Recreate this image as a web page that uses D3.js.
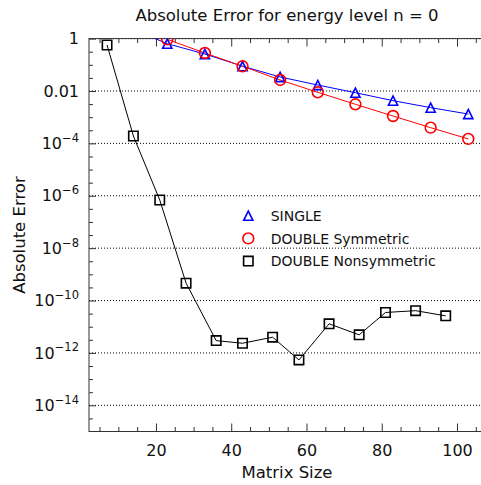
<!DOCTYPE html>
<html>
<head>
<meta charset="utf-8">
<script src="https://cdn.jsdelivr.net/npm/d3@7"></script>
<style>
  html, body { margin: 0; padding: 0; background: #fff; }
  svg { display: block; font-family: "DejaVu Sans", sans-serif; }
</style>
</head>
<body>
<svg id="chart" width="481" height="485"></svg>
<script>
// ---- data ----
const title = "Absolute Error for energy level n = 0";
const xLabel = "Matrix Size";
const yLabel = "Absolute Error";

const singleX = [13, 23, 33, 43, 53, 63, 73, 83, 93, 103];
const singleY = [2.6, 0.638, 0.258, 0.0885, 0.0342, 0.0169, 0.00861, 0.00427, 0.00231, 0.00132];

const dblSymX = [23, 33, 43, 53, 63, 73, 83, 93, 103];
const dblSymY = [0.933, 0.282, 0.0877, 0.0263, 0.00891, 0.0031, 0.00111, 0.000398, 0.000148];

const dblNonX = [7, 14, 21, 28, 36, 43, 51, 58, 66, 74, 81, 89, 97];
const dblNonY = [0.57, 1.91e-4, 6.9e-7, 4.6e-10, 2.95e-12, 2.34e-12, 3.98e-12, 5.4e-13, 1.29e-11, 4.9e-12, 3.5e-11, 4.1e-11, 2.6e-11];

const seriesNames = ["SINGLE", "DOUBLE Symmetric", "DOUBLE Nonsymmetric"];
const seriesColors = ["#0000ff", "#ff0000", "#000000"];
const seriesMarkers = ["triangle", "circle", "square"];

const xMajorTicks = [20, 40, 60, 80, 100];
const xMinorTicks = [5, 10, 15, 25, 30, 35, 45, 50, 55, 65, 70, 75, 85, 90, 95, 105];
const yMajorTicks = [1, 1e-2, 1e-4, 1e-6, 1e-8, 1e-10, 1e-12, 1e-14];
const yMajorLabels = [["1", null], ["0.01", null], ["10", "−4"], ["10", "−6"], ["10", "−8"], ["10", "−10"], ["10", "−12"], ["10", "−14"]];
const yMinorExps = [-0.5, -1, -1.5, -2.5, -3, -3.5, -4.5, -5, -5.5, -6.5, -7, -7.5, -8.5, -9, -9.5, -10.5, -11, -11.5, -12.5, -13, -13.5, -14.5];

// ---- layout ----
const pL = 89, pT = 38.6, pB = 431.5, pR = 487.1;
const svg = d3.select("#chart");

const x = d3.scaleLinear().domain([2.2, 108]).range([pL, pR]);
const y = d3.scaleLog().domain([1e-15, 1]).range([pB, pT]);

// clip
svg.append("defs").append("clipPath").attr("id", "plotclip")
  .append("rect").attr("x", pL).attr("y", pT).attr("width", pR - pL).attr("height", pB - pT);

// gridlines
svg.append("g").selectAll("line").data(yMajorTicks).join("line")
  .attr("x1", pL).attr("x2", pR)
  .attr("y1", d => y(d)).attr("y2", d => y(d))
  .attr("stroke", "#000").attr("stroke-width", 1)
  .attr("stroke-dasharray", "1,2");

// axes
const axisColor = "#333";
function styleAxis(g) {
  g.select(".domain").remove();
  g.selectAll(".tick line").attr("stroke", axisColor).attr("stroke-width", 1);
  g.selectAll("text").attr("fill", "#111").attr("font-size", 16).attr("font-family", "DejaVu Sans");
}

// bottom major/minor
svg.append("g").attr("transform", `translate(0,${pB})`)
  .call(d3.axisBottom(x).tickValues(xMajorTicks).tickSize(-8).tickPadding(13.5).tickFormat(d3.format("d")))
  .call(styleAxis);
svg.append("g").attr("transform", `translate(0,${pB})`)
  .call(d3.axisBottom(x).tickValues(xMinorTicks).tickSize(-4.5).tickFormat(""))
  .call(styleAxis);
// top major/minor
svg.append("g").attr("transform", `translate(0,${pT})`)
  .call(d3.axisTop(x).tickValues(xMajorTicks).tickSize(-8).tickFormat(""))
  .call(styleAxis);
svg.append("g").attr("transform", `translate(0,${pT})`)
  .call(d3.axisTop(x).tickValues(xMinorTicks).tickSize(-4.5).tickFormat(""))
  .call(styleAxis);

// left major
const yAxisG = svg.append("g").attr("transform", `translate(${pL},0)`)
  .call(d3.axisLeft(y).tickValues(yMajorTicks).tickSize(-7).tickPadding(10).tickFormat(""))
  .call(styleAxis);
yAxisG.selectAll(".tick text").each(function(d, i) {
  const t = d3.select(this);
  const lab = yMajorLabels[i];
  t.text(null);
  t.append("tspan").text(lab[0]);
  if (lab[1]) {
    t.append("tspan").attr("font-size", 11.5).attr("dy", "-0.62em").text(lab[1]);
  }
});
// left minor
svg.append("g").attr("transform", `translate(${pL},0)`)
  .call(d3.axisLeft(y).tickValues(yMinorExps.map(e => Math.pow(10, e))).tickSize(-4).tickFormat(""))
  .call(styleAxis);

// frame
svg.append("rect").attr("x", pL).attr("y", pT).attr("width", pR - pL).attr("height", pB - pT)
  .attr("fill", "none").attr("stroke", axisColor).attr("stroke-width", 1);

// markers
function markerPath(type) {
  if (type === "triangle") { const s = 4.6; return `M0,${-s}L${s},${s}L${-s},${s}Z`; }
  if (type === "square") { const s = 4.7; return `M${-s},${-s}H${s}V${s}H${-s}Z`; }
  const r = 5.4; return `M${r},0A${r},${r} 0 1,1 ${-r},0A${r},${r} 0 1,1 ${r},0Z`;
}

const seriesData = [
  singleX.map((v, i) => [v, singleY[i]]),
  dblSymX.map((v, i) => [v, dblSymY[i]]),
  dblNonX.map((v, i) => [v, dblNonY[i]])
];

const plot = svg.append("g").attr("clip-path", "url(#plotclip)");
const line = d3.line().x(d => x(d[0])).y(d => y(d[1]));

seriesData.forEach((data, si) => {
  plot.append("path").datum(data).attr("d", line)
    .attr("fill", "none").attr("stroke", seriesColors[si]).attr("stroke-width", 1);
});
seriesData.forEach((data, si) => {
  plot.append("g").selectAll("path").data(data).join("path")
    .attr("transform", d => `translate(${x(d[0])},${y(d[1])})`)
    .attr("d", markerPath(seriesMarkers[si]))
    .attr("fill", "none").attr("stroke", seriesColors[si]).attr("stroke-width", 1.6);
});

// legend
const legX = 248.3, legY0 = 215.7, legDY = 22.7;
const leg = svg.append("g");
seriesNames.forEach((name, i) => {
  const yy = legY0 + i * legDY;
  leg.append("path").attr("transform", `translate(${legX},${yy})`)
    .attr("d", markerPath(seriesMarkers[i]))
    .attr("fill", "none").attr("stroke", seriesColors[i]).attr("stroke-width", 1.6);
  leg.append("text").attr("x", 270.7).attr("y", yy + 5.2)
    .attr("font-size", 14).attr("fill", "#111").text(name);
});

// title & labels
svg.append("text").attr("x", 287).attr("y", 20.5).attr("text-anchor", "middle")
  .attr("font-size", 16.5).attr("fill", "#111").text(title);
svg.append("text").attr("x", 287).attr("y", 477.5).attr("text-anchor", "middle")
  .attr("font-size", 16.5).attr("fill", "#111").text(xLabel);
svg.append("text").attr("transform", `translate(25,${(pT + pB) / 2}) rotate(-90)`)
  .attr("text-anchor", "middle").attr("font-size", 16.5).attr("fill", "#111").text(yLabel);
</script>
</body>
</html>
